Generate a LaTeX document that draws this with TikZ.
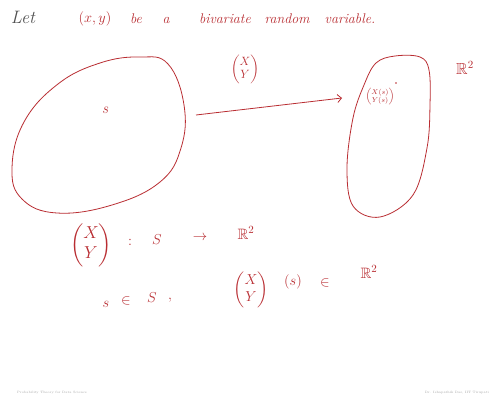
\documentclass[tikz,border=0pt]{standalone}
\usepackage{amsmath,amssymb}
\usetikzlibrary{arrows.meta}
\definecolor{ink}{RGB}{185,45,50}
\definecolor{pencil}{RGB}{80,80,80}
\begin{document}
\begin{tikzpicture}[x=1pt,y=-1pt,
  hand/.style={text=ink,inner sep=0pt,font=\fontsize{13}{15}\selectfont\itshape},
  head/.style={hand,font=\fontsize{14}{16}\selectfont\itshape},
  big/.style={hand,font=\fontsize{15}{17}\selectfont},
  blob/.style={draw=ink,line width=0.8pt},
  foot/.style={text=gray!70,inner sep=0pt,font=\fontsize{3.2}{4}\selectfont}]
\useasboundingbox (0,0) rectangle (490,403);
\fill[white] (0,0) rectangle (490,403);
% heading
\node[inner sep=0pt,text=pencil,font=\fontsize{18}{20}\selectfont\itshape] (let) at (23,17) {Let};
\node[head] (w1) at (95,19) {$(x,y)$};
\node[head] (w2) at (136,19) {be};
\node[head] (w3) at (166,20) {a};
\node[head] (w4) at (225,19) {bivariate};
\node[head] (w5) at (287,19) {random};
\node[head] (w6) at (350,19) {variable.};
% left blob (sample space)
\draw[blob] plot[smooth cycle,tension=0.7] coordinates {(140,57) (168,64) (184,105) (181,148) (160,182) (112,205) (57,213) (22,199) (12,168) (24,122) (58,84) (100,63)};
\node[hand,font=\fontsize{15}{16}\selectfont\itshape] (s) at (105,110) {s};
% right blob (R^2)
\draw[blob] plot[smooth cycle,tension=0.6] coordinates {(376,63) (395,56) (420,57) (429,70) (430,105) (427,148) (413,195) (380,217) (353,206) (347,168) (353,118) (364,85)};
\node[big,font=\fontsize{16}{18}\selectfont] (R2top) at (465,68) {$\mathbb{R}^2$};
% arrow
\coordinate (from) at (196,115);
\coordinate (to) at (342,98);
\draw[draw=ink,line width=0.8pt,-{Straight Barb[length=4pt,width=8pt]}] (from) -- (to);
\node[hand,font=\fontsize{12}{13}\selectfont] (XY) at (245,69) {$\begin{pmatrix}X\\Y\end{pmatrix}$};
\node[hand,font=\fontsize{7}{8}\selectfont] (pt) at (380,97) {$\begin{pmatrix}X(s)\\Y(s)\end{pmatrix}$};
\fill[ink] (396,83) circle (0.8);
% bottom line 1
\node[hand,font=\fontsize{18}{20}\selectfont] (m1) at (91,245) {$\begin{pmatrix}X\\Y\end{pmatrix}$};
\node[big] (m2) at (130,242) {$:$};
\node[big] (m3) at (157,240) {$S$};
\node[big] (m4) at (200,238) {$\to$};
\node[big] (m5) at (246,233) {$\mathbb{R}^2$};
% bottom line 2
\node[big] (n1) at (106,304) {$s$};
\node[big] (n2) at (126,301) {$\in$};
\node[big] (n3) at (152,298) {$S$};
\node[big] (n4) at (170,300) {$,$};
\node[hand,font=\fontsize{15}{17}\selectfont] (n5) at (251,290) {$\begin{pmatrix}X\\Y\end{pmatrix}$};
\node[big] (n6) at (293,282) {$(s)$};
\node[big] (n7) at (325,283) {$\in$};
\node[big] (n8) at (369,272) {$\mathbb{R}^2$};
% footer
\node[foot,anchor=west] (fl) at (17,393) {Probability Theory for Data Science};
\node[foot,anchor=east] (fr) at (489,393) {Dr. Ishapathik Das, IIT Tirupati};
\end{tikzpicture}
\end{document}
